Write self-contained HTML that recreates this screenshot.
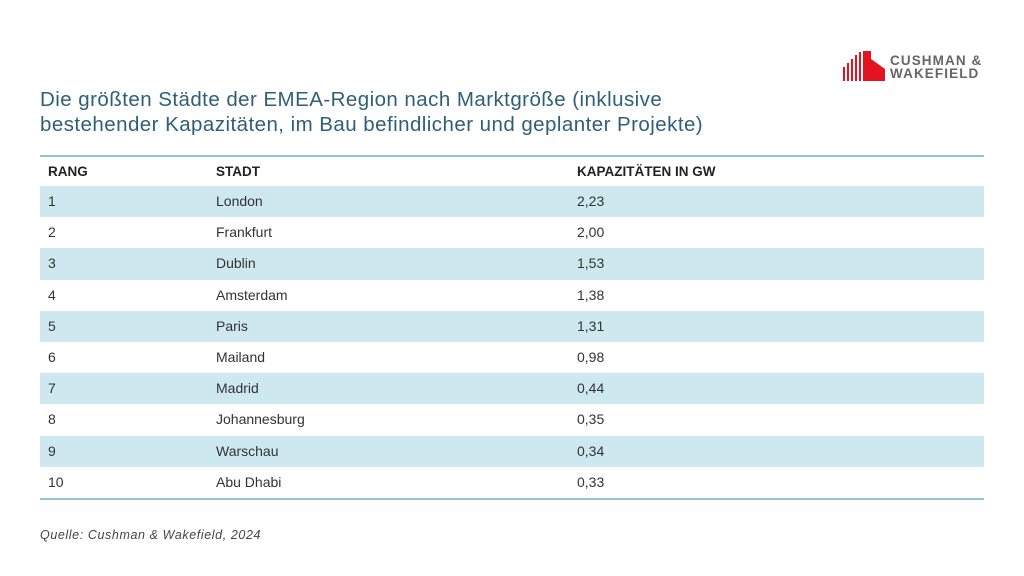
<!DOCTYPE html>
<html><head><meta charset="utf-8"><style>
body{margin:0;width:1024px;height:576px;background:#fff;position:relative;font-family:"Liberation Sans",sans-serif;overflow:hidden}
.t{position:absolute;left:40px;top:87px;font-size:20.5px;line-height:25px;color:#2f5f78;letter-spacing:.45px}
.tab{position:absolute;left:40px;top:155px;width:944px;border-top:2px solid #8fc6cf;border-bottom:2px solid #8fc6cf}
.r{height:31.2px;position:relative;font-size:14px;color:#333}
.r span{position:absolute;top:7px}
.r .a{left:8px}.r .b{left:176px}.r .c{left:537px}
.h{font-weight:bold;font-size:13.5px;color:#222;height:29px}
.s{background:#cde9ef}
.q{position:absolute;left:40px;top:528px;font-size:12.5px;font-style:italic;color:#444;letter-spacing:.6px}
.lg{position:absolute;left:890px;top:54px;font-weight:bold;font-size:13.5px;line-height:13px;color:#666;letter-spacing:1.1px}
</style></head><body>
<svg style="position:absolute;left:843px;top:51px" width="42" height="30">
<g fill="#e3141f">
<rect x="0" y="16" width="2" height="14"/><rect x="4" y="12" width="2" height="18"/><rect x="8" y="8" width="2" height="22"/><rect x="12" y="4" width="2" height="26"/><rect x="16" y="1" width="2" height="29"/>
<polygon points="20,0 28,0 28,8 42,18 42,30 20,30"/>
</g></svg>
<div class="lg">CUSHMAN &amp;<br>WAKEFIELD</div>
<div class="t">Die größten Städte der EMEA-Region nach Marktgröße (inklusive<br>bestehender Kapazitäten, im Bau befindlicher und geplanter Projekte)</div>
<div class="tab">
<div class="r h"><span class="a">RANG</span><span class="b">STADT</span><span class="c">KAPAZITÄTEN IN GW</span></div>
<div class="r s"><span class="a">1</span><span class="b">London</span><span class="c">2,23</span></div>
<div class="r"><span class="a">2</span><span class="b">Frankfurt</span><span class="c">2,00</span></div>
<div class="r s"><span class="a">3</span><span class="b">Dublin</span><span class="c">1,53</span></div>
<div class="r"><span class="a">4</span><span class="b">Amsterdam</span><span class="c">1,38</span></div>
<div class="r s"><span class="a">5</span><span class="b">Paris</span><span class="c">1,31</span></div>
<div class="r"><span class="a">6</span><span class="b">Mailand</span><span class="c">0,98</span></div>
<div class="r s"><span class="a">7</span><span class="b">Madrid</span><span class="c">0,44</span></div>
<div class="r"><span class="a">8</span><span class="b">Johannesburg</span><span class="c">0,35</span></div>
<div class="r s"><span class="a">9</span><span class="b">Warschau</span><span class="c">0,34</span></div>
<div class="r"><span class="a">10</span><span class="b">Abu Dhabi</span><span class="c">0,33</span></div>
</div>
<div class="q">Quelle: Cushman &amp; Wakefield, 2024</div>
</body></html>
